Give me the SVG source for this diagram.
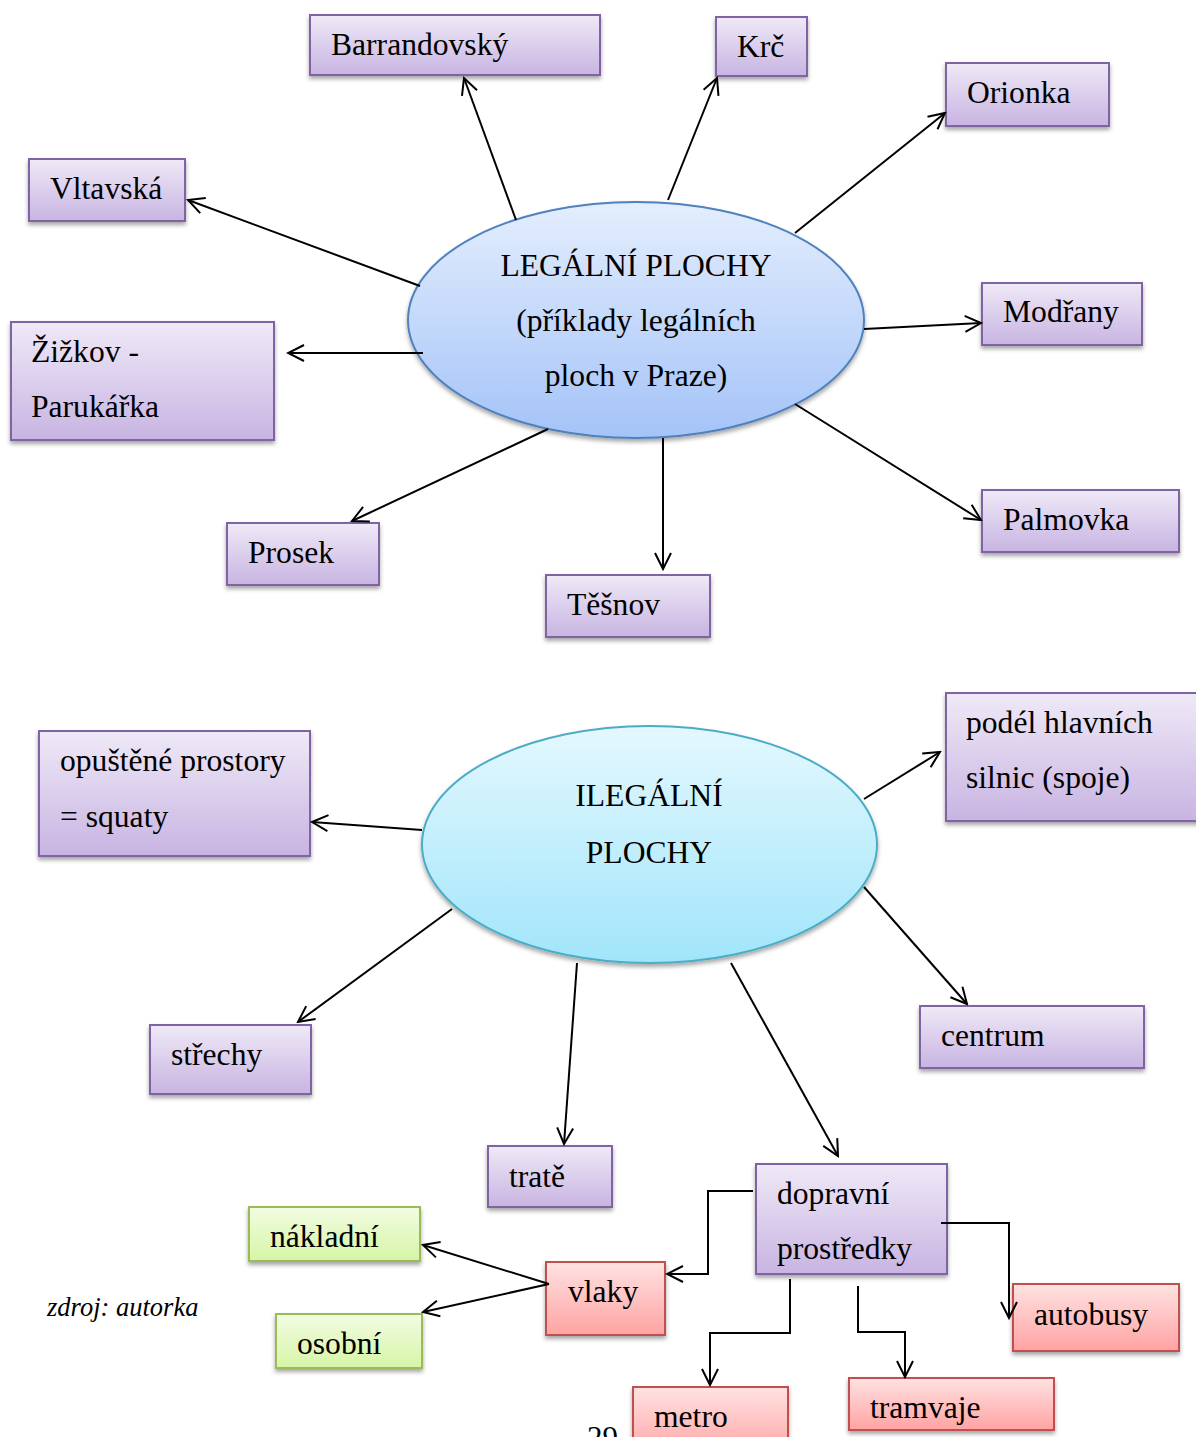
<svg xmlns="http://www.w3.org/2000/svg" width="1196" height="1437" viewBox="0 0 1196 1437">
<style>
text{font-family:"Liberation Serif","Times New Roman",serif;font-size:31.6px;fill:#000}
.p{fill:url(#gp);stroke:#8064a2;stroke-width:2;filter:url(#sh)}
.g{fill:url(#gg);stroke:#9bbb59;stroke-width:2;filter:url(#sh)}
.r{fill:url(#gr);stroke:#c0504d;stroke-width:2;filter:url(#sh)}
.c line,.c polyline{stroke:#000;stroke-width:2;fill:none;marker-end:url(#ah)}
.mid{text-anchor:middle}
</style>
<defs>
<linearGradient id="gp" x1="0" y1="0" x2="0" y2="1"><stop offset="0" stop-color="#efe9f7"/><stop offset="1" stop-color="#c8b4e2"/></linearGradient>
<linearGradient id="gg" x1="0" y1="0" x2="0" y2="1"><stop offset="0" stop-color="#f2fce2"/><stop offset="1" stop-color="#d6f5a6"/></linearGradient>
<linearGradient id="gr" x1="0" y1="0" x2="0" y2="1"><stop offset="0" stop-color="#ffe2e2"/><stop offset="1" stop-color="#ffa3a3"/></linearGradient>
<linearGradient id="gb" x1="0" y1="0" x2="0" y2="1"><stop offset="0" stop-color="#e4eefd"/><stop offset="1" stop-color="#a4c3f8"/></linearGradient>
<linearGradient id="gc" x1="0" y1="0" x2="0" y2="1"><stop offset="0" stop-color="#e4f8fe"/><stop offset="1" stop-color="#a1e5fb"/></linearGradient>
<filter id="sh" x="-10%" y="-10%" width="120%" height="130%"><feDropShadow dx="0" dy="3" stdDeviation="2" flood-color="#000" flood-opacity="0.35"/></filter>
<marker id="ah" markerUnits="userSpaceOnUse" viewBox="0 0 20 20" markerWidth="20" markerHeight="20" refX="18" refY="10" orient="auto"><path d="M2,2 L18,10 L2,18" fill="none" stroke="#000" stroke-width="2"/></marker>
</defs>
<rect width="1196" height="1437" fill="#fff"/>

<g id="legalni">
<ellipse cx="636" cy="320" rx="228" ry="118" fill="url(#gb)" stroke="#4f81bd" stroke-width="2" filter="url(#sh)"/>
<text class="mid" x="636" y="276">LEGÁLNÍ PLOCHY</text>
<text class="mid" x="636" y="331">(příklady legálních</text>
<text class="mid" x="636" y="386">ploch v Praze)</text>
</g>
<g id="barrandovsky"><rect class="p" x="310" y="15" width="290" height="60"/><text x="331" y="55">Barrandovský</text></g>
<g id="krc"><rect class="p" x="716" y="17" width="91" height="59"/><text x="737" y="57">Krč</text></g>
<g id="orionka"><rect class="p" x="946" y="63" width="163" height="63"/><text x="967" y="103">Orionka</text></g>
<g id="vltavska"><rect class="p" x="29" y="159" width="156" height="62"/><text x="50" y="199">Vltavská</text></g>
<g id="zizkov"><rect class="p" x="11" y="322" width="263" height="118"/><text x="31" y="362">Žižkov -</text><text x="31" y="417">Parukářka</text></g>
<g id="modrany"><rect class="p" x="982" y="283" width="160" height="62"/><text x="1003" y="322">Modřany</text></g>
<g id="prosek"><rect class="p" x="227" y="523" width="152" height="62"/><text x="248" y="563">Prosek</text></g>
<g id="tesnov"><rect class="p" x="546" y="575" width="164" height="62"/><text x="567" y="615">Těšnov</text></g>
<g id="palmovka"><rect class="p" x="982" y="490" width="197" height="62"/><text x="1003" y="530">Palmovka</text></g>

<g id="ilegalni">
<ellipse cx="649.5" cy="844.5" rx="227.5" ry="118.5" fill="url(#gc)" stroke="#4bacc6" stroke-width="2" filter="url(#sh)"/>
<text class="mid" x="649" y="806">ILEGÁLNÍ</text>
<text class="mid" x="649" y="863">PLOCHY</text>
</g>
<g id="opustene"><rect class="p" x="39" y="731" width="271" height="125"/><text x="60" y="771">opuštěné prostory</text><text x="60" y="827">= squaty</text></g>
<g id="podel"><rect class="p" x="946" y="693" width="256" height="128"/><text x="966" y="733">podél hlavních</text><text x="966" y="788">silnic (spoje)</text></g>
<g id="strechy"><rect class="p" x="150" y="1025" width="161" height="69"/><text x="171" y="1065">střechy</text></g>
<g id="centrum"><rect class="p" x="920" y="1006" width="224" height="62"/><text x="941" y="1046">centrum</text></g>
<g id="trate"><rect class="p" x="488" y="1146" width="124" height="61"/><text x="509" y="1187">tratě</text></g>
<g id="dopravni"><rect class="p" x="756" y="1164" width="191" height="110"/><text x="777" y="1204">dopravní</text><text x="777" y="1259">prostředky</text></g>
<g id="nakladni"><rect class="g" x="249" y="1207" width="171" height="54"/><text x="270" y="1247">nákladní</text></g>
<g id="osobni"><rect class="g" x="276" y="1314" width="146" height="54"/><text x="297" y="1354">osobní</text></g>
<g id="vlaky"><rect class="r" x="546" y="1262" width="119" height="73"/><text x="568" y="1302">vlaky</text></g>
<g id="autobusy"><rect class="r" x="1013" y="1284" width="166" height="67"/><text x="1034" y="1325">autobusy</text></g>
<g id="metro"><rect class="r" x="633" y="1387" width="155" height="70"/><text x="654" y="1427">metro</text></g>
<g id="tramvaje"><rect class="r" x="849" y="1378" width="205" height="52"/><text x="870" y="1418">tramvaje</text></g>

<g id="connectors" class="c">
<line x1="516" y1="220" x2="464" y2="78"/>
<line x1="668" y1="200" x2="717" y2="78"/>
<line x1="795" y1="233" x2="945" y2="113"/>
<line x1="420" y1="286" x2="188" y2="200"/>
<line x1="423" y1="353" x2="288" y2="353"/>
<line x1="864" y1="329" x2="981" y2="323"/>
<line x1="548" y1="429" x2="352" y2="521"/>
<line x1="663" y1="438" x2="663" y2="569"/>
<line x1="795" y1="404" x2="981" y2="520"/>
<line x1="422" y1="830" x2="312" y2="822"/>
<line x1="864" y1="799" x2="940" y2="752"/>
<line x1="452" y1="909" x2="298" y2="1022"/>
<line x1="864" y1="887" x2="967" y2="1004"/>
<line x1="577" y1="963" x2="564" y2="1144"/>
<line x1="731" y1="963" x2="838" y2="1156"/>
<polyline points="753,1191 708,1191 708,1274 667,1274"/>
<polyline points="941,1223 1009,1223 1009,1318"/>
<polyline points="790,1279 790,1333 710,1333 710,1385"/>
<polyline points="858,1286 858,1332 905,1332 905,1377"/>
<line x1="549" y1="1284" x2="423" y2="1245"/>
<line x1="549" y1="1284" x2="423" y2="1312"/>
</g>

<text x="47" y="1316" style="font-style:italic;font-size:26.5px">zdroj: autorka</text>
<text x="587" y="1448" style="font-size:31px">29</text>
</svg>
